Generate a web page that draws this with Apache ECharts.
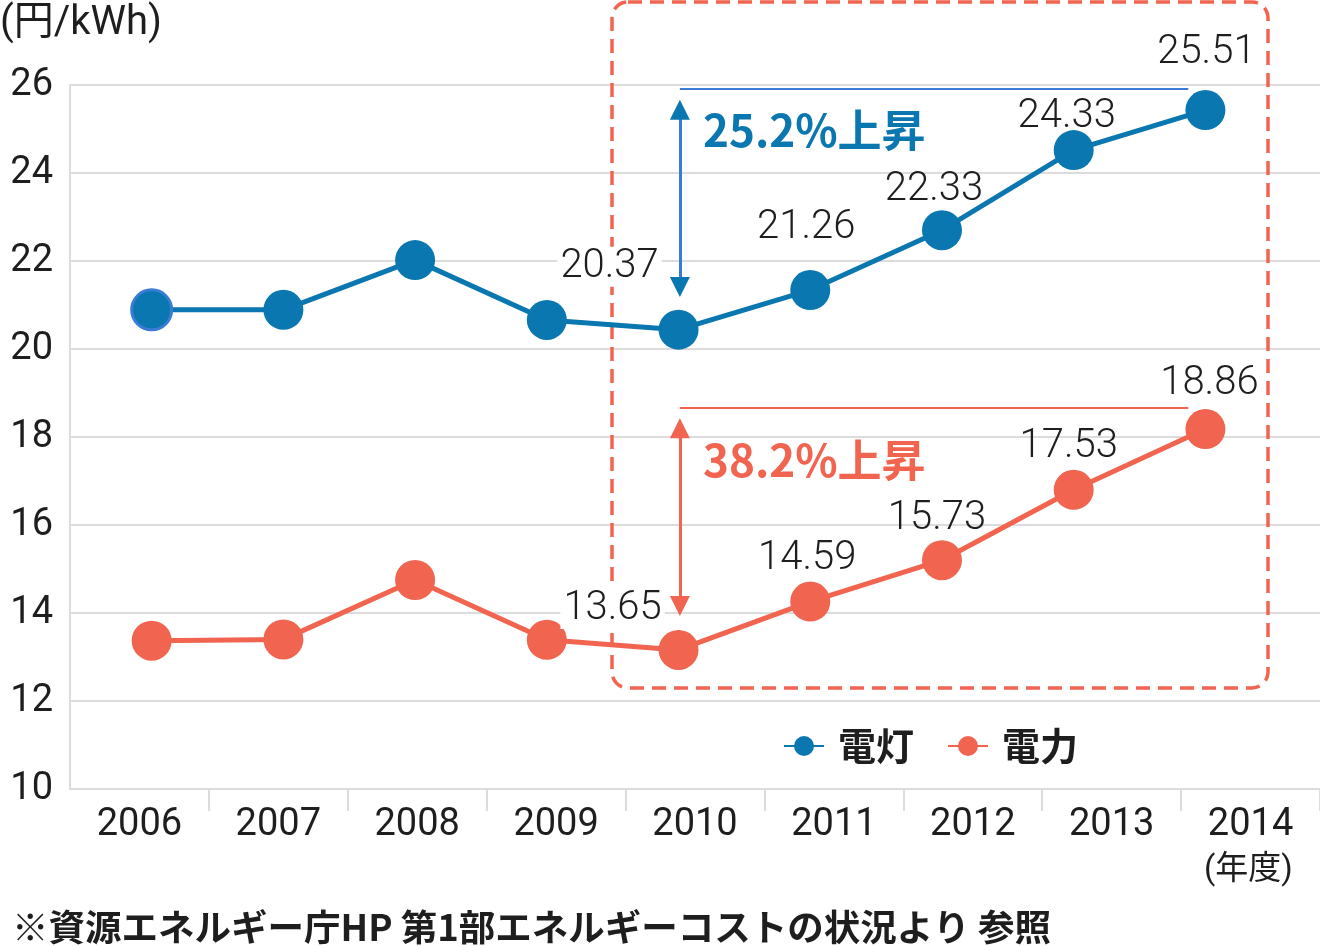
<!DOCTYPE html>
<html><head><meta charset="utf-8">
<script src="https://cdn.jsdelivr.net/npm/echarts@6/dist/echarts.min.js"></script>
<style>html,body{margin:0;padding:0;background:#fff}#c{width:1320px;height:946px}</style>
</head><body><div id="c"></div>
<script>
// ---- data ----
const years = ['2006','2007','2008','2009','2010','2011','2012','2013','2014'];
const yTicks = [10, 12, 14, 16, 18, 20, 22, 24, 26];
const seriesNames = ['電灯', '電力'];
// plotted positions
const lightingValues = [20.89, 20.89, 22.02, 20.66, 20.44, 21.34, 22.70, 24.52, 25.43];
const powerValues    = [13.37, 13.40, 14.75, 13.39, 13.16, 14.26, 15.20, 16.80, 18.18];
// printed value labels
const lightingLabels = ['', '', '', '', '20.37', '21.26', '22.33', '24.33', '25.51'];
const powerLabels    = ['', '', '', '', '13.65', '14.59', '15.73', '17.53', '18.86'];
const riseTexts = ['25.2%上昇', '38.2%上昇'];
const unitText = '(円/kWh)';
const yearUnitText = '(年度)';
const noteText = '※資源エネルギー庁HP 第1部エネルギーコストの状況より 参照';

// ---- layout / style (not data) ----
const BLUE = '#0a77b0', BLUE_LIGHT = '#3a7bd5', RED = '#f06450', GRID = '#dcdcdc', TXT = '#1e1e1e';
const lightingOffsets = [null, null, null, null, [-69,-63], [-4,-62], [-8,-40], [-7,-33], [1,-57]];
const powerOffsets    = [null, null, null, null, [-66,-41], [-3,-43], [-5,-41], [-5,-43], [4,-45]];
const NUMFONT = 'Roboto, "Noto Sans CJK JP", sans-serif';
const JPFONT = '"Noto Sans CJK JP", sans-serif';

function buildData(values, labels, offsets, firstStyle) {
  return values.map((v, i) => {
    const item = { value: [i, v] };
    if (labels[i]) {
      item.label = { show: true, formatter: labels[i], offset: offsets[i] };
      // the first labelled point sits on the dashed frame: give it a white backing
      if (i === 4) { item.label.backgroundColor = '#fff'; item.label.padding = [0, 3]; }
    }
    if (i === 0 && firstStyle) item.itemStyle = firstStyle;
    return item;
  });
}

const labelStyle = {
  show: false, position: 'inside', color: TXT, fontSize: 40, fontWeight: 300,
  fontFamily: NUMFONT
};

const chart = echarts.init(document.getElementById('c'), null, { renderer: 'canvas' });
chart.setOption({
  animation: false,
  backgroundColor: '#fff',
  grid: { left: 70, right: 0, top: 85, bottom: 157, containLabel: false },
  xAxis: [{
    type: 'category', data: years, boundaryGap: true,
    axisLine: { lineStyle: { color: GRID, width: 2 } },
    axisTick: { show: true, length: 22, lineStyle: { color: GRID, width: 2 }, interval: (idx) => idx !== 0 },
    axisLabel: { color: TXT, fontSize: 38, fontFamily: NUMFONT, margin: 16, lineHeight: 40 },
    splitLine: { show: false }
  }, {
    type: 'value', min: -0.62, max: 8.87, show: false, splitLine: { show: false }
  }],
  yAxis: {
    type: 'value', min: yTicks[0], max: yTicks[yTicks.length - 1], interval: yTicks[1] - yTicks[0],
    axisLine: { show: true, onZero: false, lineStyle: { color: GRID, width: 2 } },
    axisTick: { show: false },
    axisLabel: { color: TXT, fontSize: 38, fontFamily: NUMFONT, margin: 17 },
    splitLine: { lineStyle: { color: GRID, width: 2 } }
  },
  legend: {
    data: seriesNames, left: 778, top: 722, itemWidth: 40, itemHeight: 25, itemGap: 33,
    textStyle: { fontSize: 38, fontWeight: 'bold', color: TXT, fontFamily: JPFONT, lineHeight: 30, padding: [0, 0, 0, 9] },
    selectedMode: false
  },
  series: [{
    name: seriesNames[0], type: 'line', xAxisIndex: 1, z: 3,
    data: buildData(lightingValues, lightingLabels, lightingOffsets, { borderColor: BLUE_LIGHT, borderWidth: 3 }),
    symbol: 'circle', symbolSize: 40,
    lineStyle: { color: BLUE, width: 5 }, itemStyle: { color: BLUE },
    label: labelStyle, emphasis: { disabled: true },
    markLine: {
      silent: true, animation: false, label: { show: false },
      data: [
        [{ coord: [4.01, 25.91], symbol: 'none', lineStyle: { color: BLUE_LIGHT, width: 2, type: 'solid' } },
         { coord: [7.87, 25.91], symbol: 'none' }],
        [{ coord: [4.01, 25.44], symbol: 'none', lineStyle: { color: BLUE_LIGHT, width: 3, type: 'solid' } },
         { coord: [4.01, 21.41], symbol: 'none' }]
      ]
    },
    markPoint: {
      silent: true, animation: false, label: { show: false }, itemStyle: { color: BLUE },
      data: [
        { coord: [4.01, 25.44], symbol: 'triangle', symbolSize: [20, 20] },
        { coord: [4.01, 21.41], symbol: 'triangle', symbolSize: [20, 20], symbolRotate: 180 }
      ]
    }
  }, {
    name: seriesNames[1], type: 'line', xAxisIndex: 1, z: 3,
    data: buildData(powerValues, powerLabels, powerOffsets, null),
    symbol: 'circle', symbolSize: 40,
    lineStyle: { color: RED, width: 5 }, itemStyle: { color: RED },
    label: labelStyle, emphasis: { disabled: true },
    markLine: {
      silent: true, animation: false, label: { show: false },
      data: [
        [{ coord: [4.01, 18.66], symbol: 'none', lineStyle: { color: RED, width: 2, type: 'solid' } },
         { coord: [7.87, 18.66], symbol: 'none' }],
        [{ coord: [4.01, 18.20], symbol: 'none', lineStyle: { color: RED, width: 3, type: 'solid' } },
         { coord: [4.01, 14.16], symbol: 'none' }]
      ]
    },
    markPoint: {
      silent: true, animation: false, label: { show: false }, itemStyle: { color: RED },
      data: [
        { coord: [4.01, 18.20], symbol: 'triangle', symbolSize: [20, 20] },
        { coord: [4.01, 14.16], symbol: 'triangle', symbolSize: [20, 20], symbolRotate: 180 }
      ]
    }
  }],
  graphic: [
    { type: 'rect', z: 1, shape: { x: 612, y: 2, width: 656, height: 686, r: 16 },
      style: { fill: 'none', stroke: RED, lineWidth: 3.5, lineDash: [14, 8] }, silent: true },
    { type: 'text', z: 10, x: 703, y: 130,
      style: { text: riseTexts[0], fill: BLUE, font: 'bold 44px ' + JPFONT, verticalAlign: 'middle' } },
    { type: 'text', z: 10, x: 703, y: 460,
      style: { text: riseTexts[1], fill: RED, font: 'bold 44px ' + JPFONT, verticalAlign: 'middle' } },
    { type: 'text', x: 0, y: 24,
      style: { text: unitText, fill: TXT, font: '40px ' + NUMFONT, verticalAlign: 'middle' } },
    { type: 'text', x: 1204, y: 871,
      style: { text: yearUnitText, fill: TXT, font: '33px ' + NUMFONT, verticalAlign: 'middle' } },
    { type: 'text', x: 12, y: 927,
      style: { text: noteText, fill: TXT, font: 'bold 36.5px ' + JPFONT, verticalAlign: 'middle' } }
  ]
});
</script></body></html>
